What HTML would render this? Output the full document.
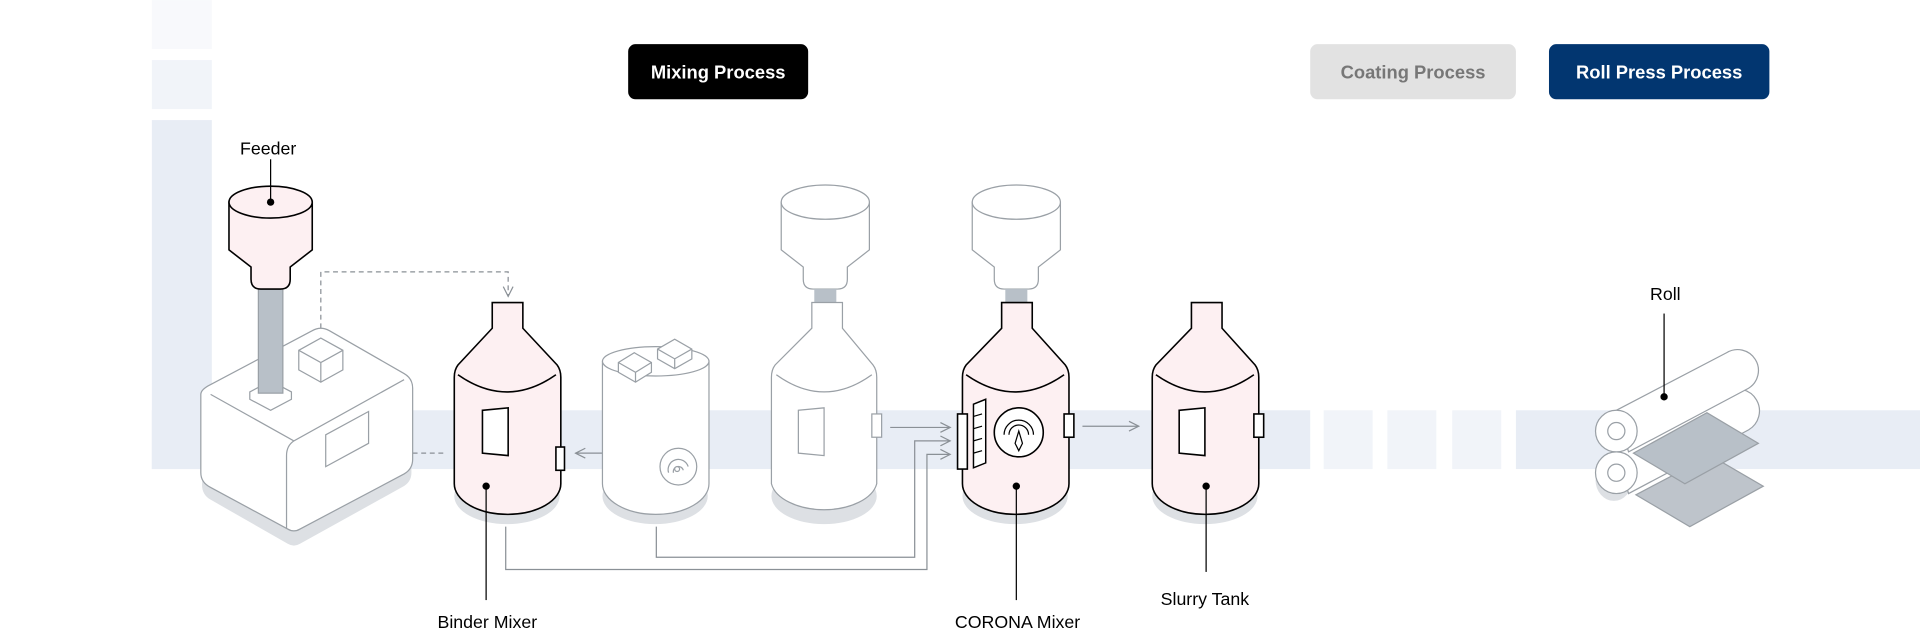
<!DOCTYPE html>
<html><head><meta charset="utf-8"><style>
html,body{margin:0;padding:0;background:#fff;}
svg{display:block;}
text{font-family:"Liberation Sans",sans-serif;}
</style></head><body>
<svg width="1920" height="632" viewBox="0 0 1568 516" xmlns="http://www.w3.org/2000/svg">
<defs>
<marker id="ah" markerWidth="10" markerHeight="10" refX="9" refY="5" orient="auto" markerUnits="userSpaceOnUse">
<path d="M1,1 L9,5 L1,9" fill="none" stroke="#8a9096" stroke-width="1"/>
</marker>
</defs>
<rect x="124" y="0" width="49" height="40" fill="#f8f9fc"/>
<rect x="124" y="49" width="49" height="40" fill="#f1f4f9"/>
<rect x="124" y="98" width="49" height="285" fill="#e8edf5"/>
<rect x="124" y="335" width="946" height="48" fill="#e8edf5"/>
<rect x="1081" y="335" width="40" height="48" fill="#f1f4f9"/>
<rect x="1133" y="335" width="40" height="48" fill="#f1f4f9"/>
<rect x="1186" y="335" width="40" height="48" fill="#f1f4f9"/>
<rect x="1238" y="335" width="330" height="48" fill="#e8edf5"/>

<rect x="513" y="36" width="147" height="45" rx="6" fill="#000"/>
<text x="586.5" y="64" text-anchor="middle" font-size="15" font-weight="bold" fill="#fff">Mixing Process</text>
<rect x="1070" y="36" width="168" height="45" rx="6" fill="#e2e2e2"/>
<text x="1154" y="64" text-anchor="middle" font-size="15" font-weight="bold" fill="#777">Coating Process</text>
<rect x="1265" y="36" width="180" height="45" rx="6" fill="#023670"/>
<text x="1355" y="64" text-anchor="middle" font-size="15" font-weight="bold" fill="#fff">Roll Press Process</text>

<path d="M262,282 V222 H415 V242" fill="none" stroke="#8a9096" stroke-dasharray="4,3" marker-end="url(#ah)"/>
<path d="M362,370 H328" fill="none" stroke="#8a9096" stroke-dasharray="4,3" marker-end="url(#ah)"/>
<path d="M505,370 H470" fill="none" stroke="#8a9096" marker-end="url(#ah)"/>
<path d="M727,349 H776" fill="none" stroke="#8a9096" marker-end="url(#ah)"/>
<path d="M536,430 V455 H747 V360 H776" fill="none" stroke="#8a9096" marker-end="url(#ah)"/>
<path d="M413,430 V465 H757 V371 H776" fill="none" stroke="#8a9096" marker-end="url(#ah)"/>
<path d="M884,348 H930" fill="none" stroke="#8a9096" marker-end="url(#ah)"/>

<path d="M168,328 L262,280 L336,318 L336,380 Q336,388 328,392 L245,438 Q240,441 235,438 L172,402 Q165,398 165,390 Z" fill="#dde0e4" transform="translate(0,6)"/>
<path d="M172,314 L255,270 Q262,266 269,270 L330,305 Q337,309 337,317 L337,375 Q337,383 330,387 L245,432 Q240,435 235,432 L172,398 Q164,394 164,386 L164,322 Q164,318 172,314 Z" fill="#fff" stroke="#9aa0a6"/>
<path d="M172,322 L240,360 L330,310" fill="none" stroke="#9aa0a6"/>
<path d="M240,360 Q234,364 234,372 L234,432" fill="none" stroke="#9aa0a6"/>
<path d="M266,355 L301,336 L301,362 L266,381 Z" fill="#fff" stroke="#9aa0a6"/>
<path d="M244,286 L262,276 L280,286 L280,302 L262,312 L244,302 Z" fill="#fff" stroke="#9aa0a6"/>
<path d="M244,286 L262,296 L280,286 M262,296 V312" fill="none" stroke="#9aa0a6"/>
<path d="M204,320 L221,311 L238,320 L238,326 L221,335 L204,326 Z" fill="#fff" stroke="#9aa0a6"/>
<rect x="211" y="234" width="20" height="87" fill="#b8c0c8" stroke="#9aa0a6"/>

<path d="M187,165 L187,204 L205,218 L205,228 Q205,236 213,236 L229,236 Q237,236 237,228 L237,218 L255,204 L255,165 Z" fill="#fdf0f2" stroke="#000" stroke-width="1.3"/>
<ellipse cx="221" cy="165" rx="34" ry="13" fill="#fdf0f2" stroke="#000" stroke-width="1.3"/>
<line x1="221" y1="130" x2="221" y2="165" stroke="#000"/>
<circle cx="221" cy="165" r="3" fill="#000"/>
<text x="219" y="126" text-anchor="middle" font-size="14.5" fill="#000">Feeder</text>

<g fill="#fff" stroke="#9aa0a6">
<path d="M638,165 L638,204 L656,218 L656,228 Q656,236 664,236 L684,236 Q692,236 692,228 L692,218 L710,204 L710,165 Z"/>
<ellipse cx="674" cy="165" rx="36" ry="14"/>
<path d="M794,165 L794,204 L812,218 L812,228 Q812,236 820,236 L840,236 Q848,236 848,228 L848,218 L866,204 L866,165 Z"/>
<ellipse cx="830" cy="165" rx="36" ry="14"/>
</g>
<rect x="665" y="236" width="18" height="12" fill="#b8c0c8"/>
<rect x="821" y="236" width="18" height="12" fill="#b8c0c8"/>

<g fill="#dde0e4">
<ellipse cx="414" cy="405" rx="43" ry="23"/>
<ellipse cx="535" cy="405" rx="43" ry="23"/>
<ellipse cx="673" cy="405" rx="43" ry="23"/>
<ellipse cx="829" cy="405" rx="43" ry="23"/>
<ellipse cx="984" cy="405" rx="43" ry="23"/>
</g>

<path d="M402,247 L427,247 L427,268 L455,298 Q458,302 458,308 L458,395 A43.5,25 0 0 1 371,395 L371,308 Q371,302 374,298 L402,268 Z" fill="#fdf0f2" stroke="#000" stroke-width="1.3"/>
<path d="M374,306 Q414,334 454,306" fill="none" stroke="#000" stroke-width="1.3"/>
<path d="M394,335 L415,333 L415,372 L394,370 Z" fill="#fff" stroke="#000" stroke-width="1.3"/>
<rect x="454" y="365" width="7" height="19" fill="#fff" stroke="#000" stroke-width="1.3"/>
<circle cx="397" cy="397" r="3" fill="#000"/>
<line x1="397" y1="397" x2="397" y2="490" stroke="#000"/>
<text x="398" y="513" text-anchor="middle" font-size="14.5" fill="#000">Binder Mixer</text>

<path d="M492,295 L492,395 A43.5,25 0 0 0 579,395 L579,295" fill="#fff" stroke="#9aa0a6"/>
<ellipse cx="535.5" cy="295" rx="43.5" ry="12" fill="#fff" stroke="#9aa0a6"/>
<g fill="#fff" stroke="#9aa0a6">
<path d="M505,296 L518,288 L532,296 L532,304 L519,312 L505,304 Z"/>
<path d="M505,296 L519,304 L532,296 M519,304 V312" fill="none"/>
<path d="M537,285 L551,277 L565,285 L565,293 L551,301 L537,293 Z"/>
<path d="M537,285 L551,293 L565,285 M551,293 V301" fill="none"/>
<circle cx="554" cy="381" r="15"/>
<path d="M546,386 A8,8 0 0 1 562,381 M550,386 A4,4 0 0 1 558,384" fill="none"/>
<circle cx="553" cy="383" r="2"/>
</g>

<path d="M663,247 L688,247 L688,268 L713,298 Q716,302 716,308 L716,395 A43.5,25 0 0 1 630,395 L630,308 Q630,302 633,298 L663,268 Z" fill="#fff" stroke="#9aa0a6"/>
<path d="M634,306 Q673,334 712,306" fill="none" stroke="#9aa0a6"/>
<path d="M652,335 L673,333 L673,372 L652,370 Z" fill="#fff" stroke="#9aa0a6"/>
<rect x="712" y="338" width="8" height="19" fill="#fff" stroke="#9aa0a6"/>

<path d="M818,247 L843,247 L843,268 L870,298 Q873,302 873,308 L873,395 A43.5,25 0 0 1 786,395 L786,308 Q786,302 789,298 L818,268 Z" fill="#fdf0f2" stroke="#000" stroke-width="1.3"/>
<path d="M789,306 Q829,334 869,306" fill="none" stroke="#000" stroke-width="1.3"/>
<rect x="782" y="338" width="8" height="45" fill="#fff" stroke="#000" stroke-width="1.3"/>
<rect x="869" y="338" width="8" height="19" fill="#fff" stroke="#000" stroke-width="1.3"/>
<path d="M795,330 L805,326 L805,378 L795,382 Z" fill="#fff" stroke="#000" stroke-width="1.2"/>
<path d="M795,340 L802,338 M795,350 L802,348 M795,360 L802,358 M795,370 L802,368" stroke="#000"/>
<circle cx="832" cy="353" r="20" fill="#fff" stroke="#000" stroke-width="1.3"/>
<path d="M820,355 A12,12 0 0 1 844,355 M824,355 A8,8 0 0 1 840,355" fill="none" stroke="#000"/>
<path d="M832,352 L835,362 L832,368 L829,362 Z" fill="#fff" stroke="#000"/>
<circle cx="830" cy="397" r="3" fill="#000"/>
<line x1="830" y1="397" x2="830" y2="490" stroke="#000"/>
<text x="831" y="513" text-anchor="middle" font-size="14.5" fill="#000">CORONA Mixer</text>

<path d="M973,247 L998,247 L998,268 L1025,298 Q1028,302 1028,308 L1028,395 A43.5,25 0 0 1 941,395 L941,308 Q941,302 944,298 L973,268 Z" fill="#fdf0f2" stroke="#000" stroke-width="1.3"/>
<path d="M944,306 Q984,334 1024,306" fill="none" stroke="#000" stroke-width="1.3"/>
<path d="M963,335 L984,333 L984,372 L963,370 Z" fill="#fff" stroke="#000" stroke-width="1.3"/>
<rect x="1024" y="338" width="8" height="19" fill="#fff" stroke="#000" stroke-width="1.3"/>
<circle cx="985" cy="397" r="3" fill="#000"/>
<line x1="985" y1="397" x2="985" y2="467" stroke="#000"/>
<text x="984" y="494" text-anchor="middle" font-size="14.5" fill="#000">Slurry Tank</text>

<ellipse cx="1318" cy="392" rx="15" ry="17" fill="#dde0e4"/>
<g stroke="#9aa0a6" fill="#fff">
<path d="M1320,369 L1410,320 A17,17 0 0 1 1428,351 L1330,403 Z"/>
<circle cx="1320" cy="386" r="17"/>
<circle cx="1320" cy="386" r="7"/>
<path d="M1320,335 L1410,288 A17,17 0 0 1 1428,317 L1330,369 Z"/>
<circle cx="1320" cy="352" r="17"/>
<circle cx="1320" cy="352" r="7"/>
<path d="M1336,404 L1397,372 L1440,397 L1380,430 Z" fill="#bec4cb"/>
<path d="M1334,370 L1394,337 L1436,362 L1376,395 Z" fill="#b8c0c8"/>
</g>
<line x1="1359" y1="256" x2="1359" y2="324" stroke="#000"/>
<circle cx="1359" cy="324" r="3" fill="#000"/>
<text x="1360" y="245" text-anchor="middle" font-size="14.5" fill="#000">Roll</text>
</svg>
</body></html>
